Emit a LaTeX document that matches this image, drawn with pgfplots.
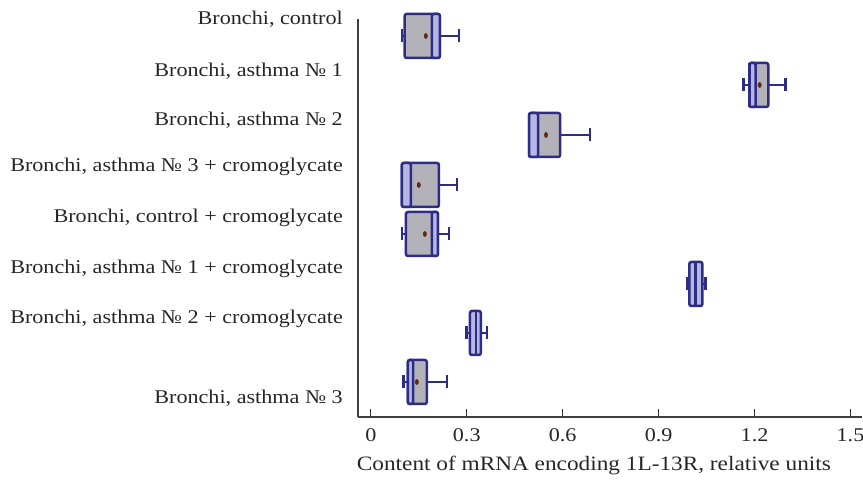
\documentclass[border=0pt]{standalone}
\usepackage{fontspec}
\setmainfont{Liberation Serif}[FakeStretch=1.14]
\usepackage{pgfplots}
\pgfplotsset{compat=1.18}
\usepgfplotslibrary{statistics}
\definecolor{navy}{RGB}{45,45,135}
\definecolor{boxgray}{RGB}{178,178,184}
\definecolor{lav}{RGB}{182,182,226}
\definecolor{meanc}{RGB}{95,40,20}
\begin{document}
\begin{tikzpicture}[x=1bp,y=1bp]
\path[use as bounding box] (0,0) rectangle (863,484);
\begin{axis}[
  at={(358bp,67bp)}, anchor=south west, scale only axis,
  width=504bp, height=398bp,
  xmin=-0.04, xmax=1.536, ymin=0, ymax=398,
  axis x line=bottom, axis y line=left,
  axis line style={-, line width=1.3bp, draw=black!75},
  xtick={0,0.3,0.6,0.9,1.2,1.5},
  xticklabels={0,0.3,0.6,0.9,1.2,1.5},
  tick align=inside,
  major tick length=8bp,
  x tick style={line width=1.2bp, draw=black!80},
  ytick={19,98,148,199,250,297,346,398},
  yticklabels={{Bronchi, asthma № 3},{Bronchi, asthma № 2 + cromoglycate},{Bronchi, asthma № 1 + cromoglycate},{Bronchi, control + cromoglycate},{Bronchi, asthma № 3 + cromoglycate},{Bronchi, asthma № 2},{Bronchi, asthma № 1},{Bronchi, control}},
  y tick style={draw=none},
  every tick label/.append style={font=\fontsize{19.5}{23}\selectfont, text=black!85},
  xticklabel style={anchor=base, yshift=-24.5bp},
  yticklabel style={anchor=east, inner sep=0pt, xshift=-15bp},
  xlabel={Content of mRNA encoding 1L-13R, relative units},
  xlabel style={font=\fontsize{20.5}{24}\selectfont, text=black!85, at={(axis description cs:0.468,-0.123)}, anchor=center},
  clip=false,
  boxplot/draw direction=x,
  boxplot/box extend=44,
  boxplot/whisker extend=13,
  bx/.style={draw=navy, line width=2.5bp, solid, mark=none, rounded corners=2bp},
]
% Row 1: Bronchi, control
\addplot[bx, fill=boxgray, boxplot prepared={draw position=381, lower whisker=0.097, lower quartile=0.106, median=0.191, upper quartile=0.216, upper whisker=0.276}] coordinates {};
\addplot[bx, fill=lav, boxplot prepared={draw position=381, lower whisker=0.191, lower quartile=0.191, median=0.191, upper quartile=0.216, upper whisker=0.216}, boxplot/whisker extend=0] coordinates {};
% Row 2: asthma 1
\addplot[bx, fill=boxgray, boxplot prepared={draw position=332, lower whisker=1.165, lower quartile=1.184, median=1.203, upper quartile=1.243, upper whisker=1.297}] coordinates {};
\addplot[bx, fill=lav, boxplot prepared={draw position=332, lower whisker=1.184, lower quartile=1.184, median=1.184, upper quartile=1.203, upper whisker=1.203}, boxplot/whisker extend=0] coordinates {};
% Row 3: asthma 2
\addplot[bx, fill=boxgray, boxplot prepared={draw position=282, lower whisker=0.495, lower quartile=0.495, median=0.523, upper quartile=0.592, upper whisker=0.686}] coordinates {};
\addplot[bx, fill=lav, boxplot prepared={draw position=282, lower whisker=0.495, lower quartile=0.495, median=0.495, upper quartile=0.523, upper whisker=0.523}, boxplot/whisker extend=0] coordinates {};
% Row 4: asthma 3 + cromoglycate
\addplot[bx, fill=boxgray, boxplot prepared={draw position=232, lower whisker=0.097, lower quartile=0.097, median=0.125, upper quartile=0.213, upper whisker=0.269}] coordinates {};
\addplot[bx, fill=lav, boxplot prepared={draw position=232, lower whisker=0.097, lower quartile=0.097, median=0.097, upper quartile=0.125, upper whisker=0.125}, boxplot/whisker extend=0] coordinates {};
% Row 5: control + cromoglycate
\addplot[bx, fill=boxgray, boxplot prepared={draw position=183, lower whisker=0.097, lower quartile=0.110, median=0.191, upper quartile=0.210, upper whisker=0.244}] coordinates {};
\addplot[bx, fill=lav, boxplot prepared={draw position=183, lower whisker=0.191, lower quartile=0.191, median=0.191, upper quartile=0.210, upper whisker=0.210}, boxplot/whisker extend=0] coordinates {};
% Row 6: asthma 1 + cromoglycate
\addplot[bx, fill=lav, boxplot prepared={draw position=133, lower whisker=0.990, lower quartile=0.996, median=1.015, upper quartile=1.037, upper whisker=1.046}] coordinates {};
% Row 7: asthma 2 + cromoglycate
\addplot[bx, fill=lav, boxplot prepared={draw position=84, lower whisker=0.300, lower quartile=0.310, median=0.329, upper quartile=0.344, upper whisker=0.363}] coordinates {};
% Row 8: asthma 3
\addplot[bx, fill=boxgray, boxplot prepared={draw position=35, lower whisker=0.103, lower quartile=0.116, median=0.132, upper quartile=0.175, upper whisker=0.238}] coordinates {};
\addplot[bx, fill=lav, boxplot prepared={draw position=35, lower whisker=0.116, lower quartile=0.116, median=0.116, upper quartile=0.132, upper whisker=0.132}, boxplot/whisker extend=0] coordinates {};
% means
\addplot[only marks, mark=*, mark size=2.6bp, mark options={fill=meanc, draw=meanc, xscale=0.65}] coordinates {
(0.172,381) (1.216,332) (0.548,282) (0.150,232) (0.169,183) (0.144,35)};
\end{axis}
\end{tikzpicture}
\end{document}
